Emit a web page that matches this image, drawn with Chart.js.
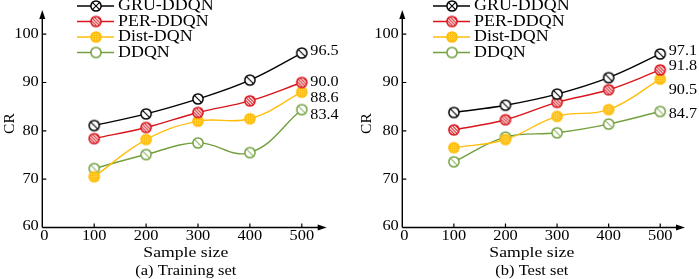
<!DOCTYPE html>
<html><head><meta charset="utf-8">
<script src="https://cdn.jsdelivr.net/npm/chart.js@4/dist/chart.umd.min.js"></script>
<style>
html,body{margin:0;padding:0;background:#fff;overflow:hidden}
#wrap{position:relative;width:699px;height:279px;background:#fff}
canvas{position:absolute;top:0}
#c1{left:0}
#c2{left:350px}
</style></head><body>
<div id="wrap"><canvas id="c1" width="349" height="279"></canvas><canvas id="c2" width="349" height="279"></canvas></div>
<script>
const sampleSizes = [100, 200, 300, 400, 500];
const xTickValues = [0, 100, 200, 300, 400, 500];
const yTickValues = [60, 70, 80, 90, 100];
const seriesNames = ['GRU-DDQN', 'PER-DDQN', 'Dist-DQN', 'DDQN'];
const trainGRU  = [81.1, 83.5, 86.6, 90.5, 96.1];
const trainPER  = [78.4, 80.7, 83.8, 86.2, 90.0];
const trainDist = [70.5, 78.2, 82.0, 82.5, 88.0];
const trainDDQN = [72.2, 75.1, 77.5, 75.5, 84.4];
const testGRU   = [83.8, 85.3, 87.6, 91.0, 95.9];
const testPER   = [80.2, 82.3, 85.9, 88.5, 92.6];
const testDist  = [76.5, 78.2, 83.0, 84.4, 90.7];
const testDDQN  = [73.6, 78.7, 79.6, 81.4, 84.0];
const trainEndLabels = ['96.5', '90.0', '88.6', '83.4'];
const testEndLabels  = ['97.1', '91.8', '90.5', '84.7'];
const xTitle = 'Sample size';
const yTitle = 'CR';
const captions = ['(a) Training set', '(b) Test set'];

const colors = ['#000000', '#d8141c', '#ffbd0a', '#72a03e'];
const FONT = '"Liberation Serif", "Times New Roman", serif';

function makeMarker(kind, legend) {
  const c = document.createElement('canvas');
  c.width = 14; c.height = 14;
  const g = c.getContext('2d');
  const cx = 7, cy = 7, r = 5.1;
  g.beginPath(); g.arc(cx, cy, r, 0, Math.PI * 2);
  if (kind === 0) {
    g.fillStyle = '#fff'; g.fill();
    g.save(); g.clip();
    g.strokeStyle = '#000'; g.lineWidth = 1.1;
    g.beginPath(); g.moveTo(cx - 3.6, cy - 3.6); g.lineTo(cx + 3.6, cy + 3.6);
    if (legend) { g.moveTo(cx + 3.6, cy - 3.6); g.lineTo(cx - 3.6, cy + 3.6); }
    g.stroke(); g.restore();
    g.strokeStyle = '#000';
  } else if (kind === 1) {
    g.fillStyle = colors[1]; g.fill();
    g.save(); g.clip();
    g.strokeStyle = '#fff'; g.lineWidth = 1.2;
    g.beginPath();
    for (let k = -15; k <= 15; k += 3.2) { g.moveTo(k, 0); g.lineTo(k + 14, 14); }
    g.stroke(); g.restore();
    g.strokeStyle = colors[1];
  } else if (kind === 2) {
    g.fillStyle = colors[2]; g.fill();
    g.save(); g.clip();
    g.fillStyle = '#fff2b8';
    for (let i = 1.5; i < 14; i += 2.3) for (let j = 1.5; j < 14; j += 2.3) g.fillRect(i, j, 1, 1);
    g.restore();
    g.strokeStyle = colors[2];
  } else {
    g.fillStyle = '#fff'; g.fill();
    g.save(); g.clip();
    if (!legend) {
      g.strokeStyle = '#8fb466'; g.lineWidth = 1.1;
      g.beginPath(); g.moveTo(cx - 2.8, cy - 2.8); g.lineTo(cx + 2.8, cy + 2.8); g.stroke();
    }
    g.restore();
    g.strokeStyle = colors[3];
  }
  g.lineWidth = 1.5;
  g.beginPath(); g.arc(cx, cy, r, 0, Math.PI * 2); g.stroke();
  return c;
}
const pointMarkers = [0, 1, 2, 3].map(k => makeMarker(k, false));
const legendMarkers = [0, 1, 2, 3].map(k => makeMarker(k, true));

function stext(ctx, str, x, y, align, size, sx) {
  ctx.save();
  ctx.font = size + 'px ' + FONT;
  ctx.fillStyle = '#000';
  ctx.textBaseline = 'middle';
  ctx.textAlign = 'left';
  const w = ctx.measureText(str).width * sx;
  const x0 = align === 'center' ? x - w / 2 : (align === 'right' ? x - w : x);
  ctx.setTransform(sx, 0, 0, 1, x0, y);
  ctx.fillText(str, 0, 0);
  ctx.restore();
}

const decor = {
  id: 'decor',
  beforeDatasetsDraw(chart, args, o) {
    const ctx = chart.ctx, a = chart.chartArea, xs = chart.scales.x, ys = chart.scales.y;
    const x0 = xs.getPixelForValue(0), y0 = ys.getPixelForValue(yTickValues[0]);
    ctx.save();
    ctx.strokeStyle = '#000'; ctx.lineWidth = 1.4;
    ctx.beginPath();
    ctx.moveTo(x0, y0); ctx.lineTo(x0, a.top + 7);
    ctx.moveTo(x0, y0); ctx.lineTo(a.right - 7, y0);
    ctx.stroke();
    ctx.fillStyle = '#000';
    ctx.beginPath(); ctx.moveTo(x0, a.top); ctx.lineTo(x0 - 3, a.top + 9); ctx.lineTo(x0 + 3, a.top + 9); ctx.closePath(); ctx.fill();
    ctx.beginPath(); ctx.moveTo(a.right, y0); ctx.lineTo(a.right - 9, y0 - 3); ctx.lineTo(a.right - 9, y0 + 3); ctx.closePath(); ctx.fill();
    ctx.lineWidth = 1.2;
    ctx.beginPath();
    yTickValues.forEach(v => { if (v === yTickValues[0]) return; const y = ys.getPixelForValue(v); ctx.moveTo(x0, y); ctx.lineTo(x0 + 4, y); });
    xTickValues.forEach(v => { if (v === 0) return; const x = xs.getPixelForValue(v); ctx.moveTo(x, y0); ctx.lineTo(x, y0 - 4); });
    ctx.stroke();
    ctx.restore();
  },
  afterDraw(chart, args, o) {
    const ctx = chart.ctx, a = chart.chartArea, xs = chart.scales.x, ys = chart.scales.y;
    const x0 = xs.getPixelForValue(0), y0 = ys.getPixelForValue(yTickValues[0]);
    // tick labels
    yTickValues.forEach(v => stext(ctx, String(v), x0 - 3.5, ys.getPixelForValue(v) + (v === yTickValues[0] ? -1.5 : 0), 'right', 14, 1.17));
    xTickValues.forEach(v => stext(ctx, String(v), xs.getPixelForValue(v) + (v === 0 ? 2 : 0), y0 + 8.5, 'center', 14, 1.17));
    // axis titles and caption
    const xc = x0 + o.titleDx;
    stext(ctx, xTitle, xc, y0 + 25, 'center', 15.5, 1.14);
    stext(ctx, o.caption, xc, y0 + 43.5, 'center', 15, 1.1);
    ctx.save();
    ctx.translate(x0 - o.yTitleDx, ys.getPixelForValue(81.5));
    ctx.rotate(-Math.PI / 2);
    ctx.font = '15.5px ' + FONT; ctx.fillStyle = '#000';
    ctx.textAlign = 'center'; ctx.textBaseline = 'middle';
    ctx.fillText(yTitle, 0, 0);
    ctx.restore();
    // legend
    const rows = [6, 21.5, 37, 52.5];
    seriesNames.forEach((n, i) => {
      const y = rows[i];
      ctx.save();
      ctx.strokeStyle = colors[i]; ctx.lineWidth = 1.4;
      ctx.beginPath(); ctx.moveTo(o.legendX, y); ctx.lineTo(o.legendX + 37, y); ctx.stroke();
      const m = legendMarkers[i];
      ctx.drawImage(m, o.legendX + 19 - m.width / 2, y - m.height / 2);
      ctx.restore();
      stext(ctx, n, o.legendX + 41, y, 'left', 16, 1.12);
    });
    // end value labels
    o.endLabels.forEach((t, i) => {
      const pts = chart.getDatasetMeta(i).data;
      const p = pts[pts.length - 1];
      stext(ctx, t, p.x + 8.5, p.y + o.endDy[i], 'left', 15, 1.08);
    });
  }
};

function makeChart(id, series, endLabels, caption, padL, padR, legendX, yTitleDx, titleDx, endDy) {
  new Chart(document.getElementById(id), {
    type: 'line',
    data: {
      datasets: seriesNames.map((n, i) => ({
        label: n,
        data: sampleSizes.map((x, j) => ({ x: x, y: series[i][j] })),
        borderColor: colors[i],
        backgroundColor: colors[i],
        borderWidth: 1.4,
        pointStyle: pointMarkers[i],
        pointRadius: 5,
        pointHoverRadius: 5,
        tension: 0.4,
        fill: false,
        clip: false
      }))
    },
    options: {
      responsive: false,
      animation: false,
      events: [],
      layout: { padding: { left: padL, right: padR, top: 10, bottom: 51.5 } },
      plugins: {
        legend: { display: false },
        tooltip: { enabled: false },
        decor: { endLabels: endLabels, caption: caption, legendX: legendX, yTitleDx: yTitleDx, titleDx: titleDx, endDy: endDy }
      },
      scales: {
        x: { type: 'linear', min: 0, max: 548, display: false },
        y: { type: 'linear', min: 60, max: 105, display: false }
      }
    },
    plugins: [decor]
  });
}

makeChart('c1', [trainGRU, trainPER, trainDist, trainDDQN], trainEndLabels, captions[0], 42.3, 22.3, 77, 32, 143.5, [-1.5, -0.5, 5.5, 5.5]);
makeChart('c2', [testGRU, testPER, testDist, testDDQN], testEndLabels, captions[1], 52.3, 14, 83, 35, 129.5, [-2.5, -3.5, 10.5, 2.5]);
</script>
</body></html>
